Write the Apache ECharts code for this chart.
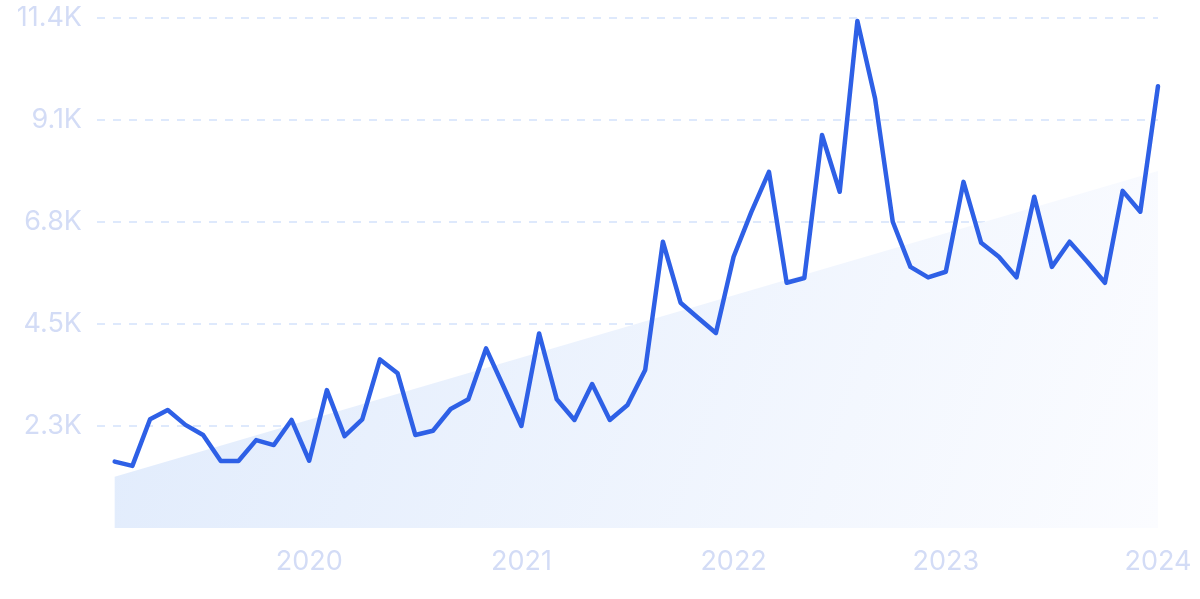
<!DOCTYPE html>
<html>
<head>
<meta charset="utf-8">
<script src="https://cdn.jsdelivr.net/npm/echarts@6/dist/echarts.min.js"></script>
<style>
  html, body { margin: 0; padding: 0; background: #ffffff; }
  #chart { width: 1200px; height: 599px; }
</style>
</head>
<body>
<div id="chart"></div>
<script>
// Months (first point Feb 2019, last Jan 2024)
const months = [
  '2019-02','2019-03','2019-04','2019-05','2019-06','2019-07','2019-08','2019-09','2019-10','2019-11','2019-12',
  '2020-01','2020-02','2020-03','2020-04','2020-05','2020-06','2020-07','2020-08','2020-09','2020-10','2020-11','2020-12',
  '2021-01','2021-02','2021-03','2021-04','2021-05','2021-06','2021-07','2021-08','2021-09','2021-10','2021-11','2021-12',
  '2022-01','2022-02','2022-03','2022-04','2022-05','2022-06','2022-07','2022-08','2022-09','2022-10','2022-11','2022-12',
  '2023-01','2023-02','2023-03','2023-04','2023-05','2023-06','2023-07','2023-08','2023-09','2023-10','2023-11','2023-12',
  '2024-01'
];
const searches = [
  1480, 1385, 2425, 2630, 2300, 2075, 1495, 1495, 1960, 1850, 2410,
  1500, 3075, 2050, 2425, 3760, 3450, 2075, 2170, 2655, 2870, 4005,
  3145, 2275, 4340, 2870, 2410, 3210, 2410, 2745, 3525, 6385, 5025,
  4685, 4350, 6050, 7045, 7945, 5470, 5575, 8765, 7500, 11310, 9580,
  6830, 5825, 5590, 5715, 7720, 6360, 6050, 5590, 7390, 5825, 6385,
  5940, 5470, 7520, 7055, 9855
];
// Trend line end points
const trendMonths = ['2019-02', '2024-01'];
const trendValues = [1145, 7960];
const yTickLabels = ['', '2.3K', '4.5K', '6.8K', '9.1K', '11.4K'];
const xTickLabels = { 12: '2020', 24: '2021', 36: '2022', 48: '2023', 60: '2024' };

function monthIndex(m) {
  const [y, mo] = m.split('-').map(Number);
  return (y - 2019) * 12 + (mo - 1);
}

const chart = echarts.init(document.getElementById('chart'), null, { renderer: 'canvas' });
const fontFam = 'Inter, "Noto Sans", sans-serif';
chart.setOption({
  animation: false,
  backgroundColor: '#ffffff',
  grid: { left: 97, right: 42, top: 18, bottom: 71, containLabel: false },
  xAxis: {
    type: 'value',
    min: 0, max: 60, interval: 12,
    axisLine: { show: false },
    axisTick: { show: false },
    splitLine: { show: false },
    axisLabel: {
      color: '#d3dcf6', fontSize: 27, fontFamily: fontFam, margin: 20,
      formatter: v => xTickLabels[v] || ''
    }
  },
  yAxis: {
    type: 'value',
    min: 0, max: 11375, interval: 2275,
    axisLine: { show: false },
    axisTick: { show: false },
    axisLabel: {
      color: '#d3dcf6', fontSize: 27, fontFamily: fontFam, margin: 15,
      formatter: (v) => yTickLabels[Math.round(v / 2275)]
    },
    splitLine: {
      lineStyle: {
        color: ['transparent', '#d3e2fc', '#d3e2fc', '#d3e2fc', '#d3e2fc', '#d3e2fc'],
        type: [8, 8], width: 1.5
      }
    }
  },
  series: [
    {
      type: 'line',
      data: trendMonths.map((m, i) => [monthIndex(m), trendValues[i]]),
      symbol: 'none',
      lineStyle: { width: 0, opacity: 0 },
      areaStyle: {
        opacity: 1,
        color: new echarts.graphic.LinearGradient(0, 0, 1, 1, [
          { offset: 0, color: '#e0ebfc' },
          { offset: 1, color: '#fbfcff' }
        ])
      },
      silent: true,
      z: 1
    },
    {
      type: 'line',
      data: months.map((m, i) => [monthIndex(m), searches[i]]),
      symbol: 'none',
      lineStyle: { width: 4.5, color: '#2e60e6', join: 'round', cap: 'round' },
      z: 3
    }
  ]
});
</script>
</body>
</html>
